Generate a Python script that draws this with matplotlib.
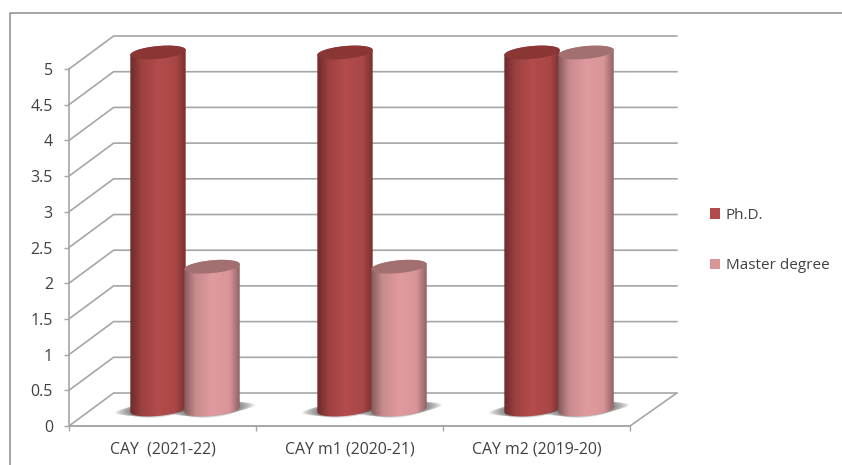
import numpy as np
import matplotlib
matplotlib.use('Agg')
import matplotlib.pyplot as plt
from matplotlib.colors import to_rgb
from matplotlib.patches import Patch, PathPatch
from matplotlib.path import Path

categories = ['CAY  (2021-22)', 'CAY m1 (2020-21)', 'CAY m2 (2019-20)']
series_names = ['Ph.D.', 'Master degree']
phd_values = [5, 5, 5]
master_values = [2, 2, 5]
y_ticks = [0, 0.5, 1, 1.5, 2, 2.5, 3, 3.5, 4, 4.5, 5]
y_tick_labels = ['0', '0.5', '1', '1.5', '2', '2.5', '3', '3.5', '4', '4.5', '5']

GRID = '#a6a6a6'
TEXT = '#404040'
# depth of the fake 3d box, in data units
DEPTH_X = 0.2385
DEPTH_Y = 0.462
BAR_W = 0.296
ELL_H = 0.18
ELL_TILT = 0.035

PHD_SHADE = ['#6e2b2a', '#9a4140', '#b34c4b', '#a94746', '#7a3130']
MASTER_SHADE = ['#85595a', '#c78a8d', '#e09b9f', '#d89498', '#8f6264']
PHD_TOP = '#8a3635'
MASTER_TOP = '#a27071'


def ellipse_points(cx, cy, start, stop, scale=1.0, yscale=1.0, n=60):
    """points of the tilted ellipse used for the cylinder ends"""
    t = np.linspace(start, stop, n)
    x = cx + scale * BAR_W / 2 * np.cos(t)
    y = cy + yscale * ELL_H / 2 * np.sin(t) + scale * ELL_TILT * np.cos(t)
    return np.column_stack([x, y])


def draw_shadow(ax, cx):
    # soft shadow on the floor, stacked see-through ellipses
    for s in np.linspace(1.05, 1.55, 8):
        pts = ellipse_points(cx, DEPTH_Y / 2 + 0.01, 0, 2 * np.pi, scale=s, yscale=1.4 - (s - 1))
        ax.fill(pts[:, 0], pts[:, 1], color='#4d4d4d', alpha=0.11, lw=0, zorder=2, clip_on=False)


def draw_cylinder(ax, cx, value, shades, top_color, zorder):
    base = DEPTH_Y / 2
    top = value + DEPTH_Y / 2
    # outline of the body: straight sides, rounded bottom, rounded top
    bottom_arc = ellipse_points(cx, base, np.pi, 2 * np.pi)
    top_arc = ellipse_points(cx, top, 0, np.pi)
    verts = np.vstack([bottom_arc, top_arc, bottom_arc[:1]])
    codes = [Path.MOVETO] + [Path.LINETO] * (len(verts) - 2) + [Path.CLOSEPOLY]
    body = PathPatch(Path(verts, codes), transform=ax.transData, fc='none', ec='none')

    # horizontal gradient for the round look
    stops = [0, 0.2, 0.5, 0.82, 1]
    rgb = np.array([to_rgb(c) for c in shades])
    u = np.linspace(0, 1, 120)
    grad = np.stack([np.interp(u, stops, rgb[:, i]) for i in range(3)], axis=-1)[np.newaxis, :, :]
    im = ax.imshow(grad, extent=[cx - BAR_W / 2, cx + BAR_W / 2, base - 0.2, top + 0.2],
                   aspect='auto', interpolation='bilinear', zorder=zorder)
    im.set_clip_box(ax.figure.bbox)
    im.set_clip_path(body)

    cap = ellipse_points(cx, top, 0, 2 * np.pi)
    ax.fill(cap[:, 0], cap[:, 1], color=top_color, lw=0, zorder=zorder + 0.1, clip_on=False)


fig = plt.figure(figsize=(8.42, 4.65), dpi=100)
plt.rcParams['font.family'] = 'Open Sans'
ax = fig.add_axes([69 / 842, 39 / 465, 561 / 842, 357 / 465])
ax.patch.set_visible(False)
for s in ax.spines.values():
    s.set_visible(False)

# outer chart border, only top and left reach the picture
fig.add_artist(plt.Line2D([10 / 842, 10 / 842, 1], [0, 452 / 465, 452 / 465], color='#8c8c8c', lw=1.1))

n = len(categories)
# walls: back gridlines plus the diagonal from each front tick
for v in y_ticks:
    ax.plot([0, DEPTH_X, n + DEPTH_X * 1.05], [v, v + DEPTH_Y, v + DEPTH_Y], color=GRID, lw=1.2,
            zorder=1, clip_on=False, solid_joinstyle='miter')
# floor and left edge
ax.plot([n, n + DEPTH_X * 1.05], [0, DEPTH_Y], color=GRID, lw=1.2, zorder=1, clip_on=False)
ax.plot([0, n], [0, 0], color=GRID, lw=1.4, zorder=1, clip_on=False)
ax.plot([0, 0], [0, 5], color=GRID, lw=1.2, zorder=1, clip_on=False)

for i in range(n):
    phd_x = i + 0.476
    master_x = i + 0.765
    draw_shadow(ax, phd_x)
    draw_shadow(ax, master_x)
    draw_cylinder(ax, phd_x, phd_values[i], PHD_SHADE, PHD_TOP, 3)
    draw_cylinder(ax, master_x, master_values[i], MASTER_SHADE, MASTER_TOP, 4)

ax.set_xlim(0, n)
ax.set_ylim(0, 5)
ax.set_yticks(y_ticks)
ax.set_yticklabels(y_tick_labels)
ax.set_xticks(range(n + 1))
ax.set_xticklabels([])
ax.set_xticks([i + 0.5 for i in range(n)], labels=categories, minor=True)
ax.tick_params(axis='y', length=3.6, width=1, color=GRID, pad=8, labelsize=11.5, labelcolor=TEXT)
ax.tick_params(axis='x', which='major', length=3.6, width=1, color=GRID)
ax.tick_params(axis='x', which='minor', length=0, pad=11, labelsize=11.4, labelcolor=TEXT)

handles = [Patch(fc='#b04b4a', ec='none'), Patch(fc='#d89498', ec='none')]
fig.legend(handles, series_names, loc='center left', bbox_to_anchor=(696 / 842, 1 - 240.5 / 465),
           frameon=False, fontsize=11, labelcolor=TEXT, handlelength=0.65, handleheight=0.65,
           handletextpad=0.4, labelspacing=2.31)

fig.savefig('out.png', dpi=100)
